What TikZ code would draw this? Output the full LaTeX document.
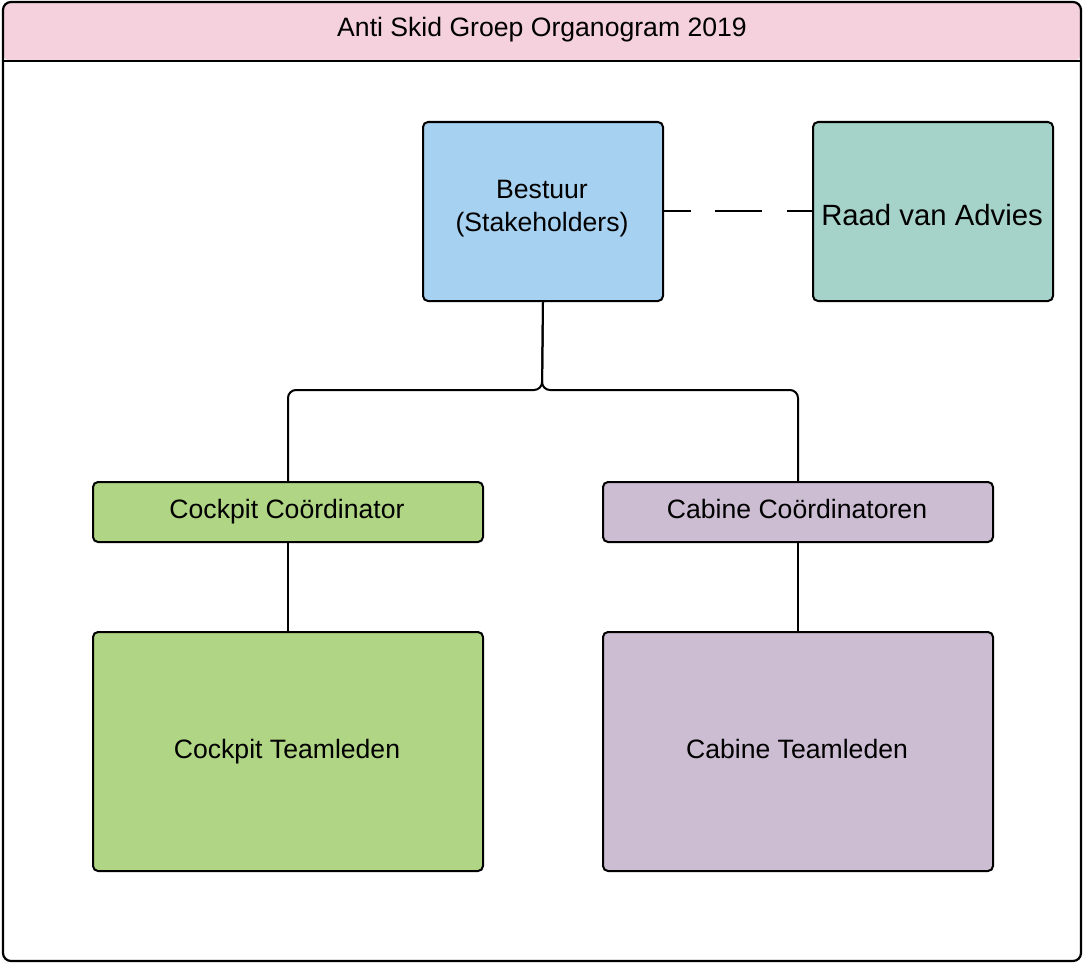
\documentclass[tikz,border=0pt]{standalone}
\usepackage{fontspec}
\setmainfont{Liberation Sans}
\definecolor{titlepink}{HTML}{F4D1DC}
\definecolor{bestuurblue}{HTML}{A6D1F0}
\definecolor{raadteal}{HTML}{A6D3C9}
\definecolor{cockgreen}{HTML}{B0D584}
\definecolor{cabpurple}{HTML}{CCBDD2}
\tikzset{
  box/.style={draw=black, line width=2pt, rounded corners=5pt, inner sep=0pt, anchor=north west},
  conn/.style={draw=black, line width=2pt, rounded corners=8pt},
  lbl/.style={font=\fontsize{26.6}{33}\selectfont, anchor=base, inner sep=0pt},
}
\begin{document}
\begin{tikzpicture}[x=1pt,y=-1pt]
\useasboundingbox (0,0) rectangle (1083,963);
% outer frame with title bar
\path[fill=titlepink, rounded corners=8pt] (3,61) -- (3,2) -- (1081,2) -- (1081,61) -- cycle;
\draw[line width=2.2pt, rounded corners=8pt] (3,2) rectangle (1081,961);
\draw[line width=2pt] (3,61) -- (1081,61);
\node[lbl] (title) at (542,36.5) {Anti Skid Groep Organogram 2019};
% boxes
\node[box, fill=bestuurblue, minimum width=240pt, minimum height=179pt] (bestuur) at (422,121) {};
\node[lbl] (bestuurA) at (542,198.5) {Bestuur};
\node[lbl] (bestuurB) at (542,231.5) {(Stakeholders)};
\node[box, fill=raadteal, minimum width=240pt, minimum height=179pt] (raad) at (812,121) {};
\node[lbl, font=\fontsize{29.3}{35}\selectfont] (raadtxt) at (932,225.5) {Raad van Advies};
\node[box, fill=cockgreen, minimum width=390pt, minimum height=60pt] (ccoord) at (92,481) {};
\node[lbl] (ccoordtxt) at (287,518.5) {Cockpit Coördinator};
\node[box, fill=cabpurple, minimum width=390pt, minimum height=60pt] (bcoord) at (602,481) {};
\node[lbl] (bcoordtxt) at (797,518.5) {Cabine Coördinatoren};
\node[box, fill=cockgreen, minimum width=390pt, minimum height=239pt] (cteam) at (92,631) {};
\node[lbl] (cteamtxt) at (287,758.5) {Cockpit Teamleden};
\node[box, fill=cabpurple, minimum width=390pt, minimum height=239pt] (bteam) at (602,631) {};
\node[lbl] (bteamtxt) at (797,758.5) {Cabine Teamleden};
% connectors
\coordinate (j) at (542,390);
\draw[conn] (bestuur.south) -- (j) -| (ccoord.north);
\draw[conn] (bestuur.south) -- (j) -| (bcoord.north);
\draw[line width=2pt] (ccoord.south) -- (cteam.north);
\draw[line width=2pt] (bcoord.south) -- (bteam.north);
\draw[line width=2pt, dash pattern=on 27pt off 24pt on 47pt off 25pt on 27pt] (bestuur.east |- 0,211) -- (raad.west |- 0,211);
\end{tikzpicture}
\end{document}
